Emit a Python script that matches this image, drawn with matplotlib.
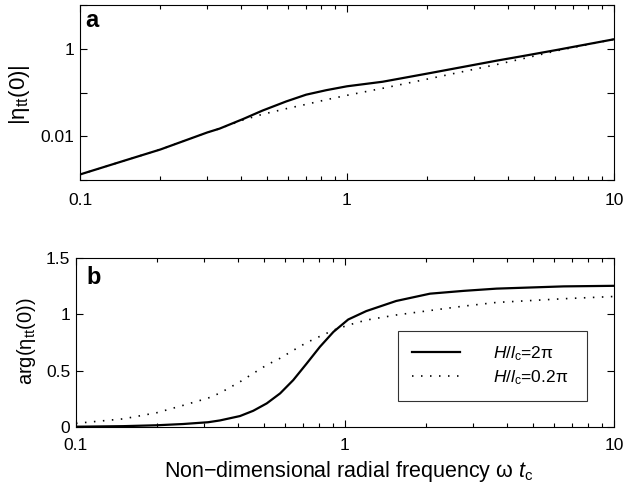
import matplotlib
matplotlib.use('Agg')
import matplotlib.pyplot as plt
from matplotlib.ticker import FixedLocator, NullLocator, LogLocator, NullFormatter

plt.rcParams['font.family'] = ['Liberation Sans', 'DejaVu Sans']
plt.rcParams['mathtext.fontset'] = 'custom'
plt.rcParams['mathtext.rm'] = 'Liberation Sans'
plt.rcParams['mathtext.it'] = 'Liberation Sans:italic'
plt.rcParams['mathtext.bf'] = 'Liberation Sans:bold'

# panel a: |eta_tt(0)| against omega t_c
x_mag = [0.1, 0.15, 0.2, 0.3, 0.333, 0.41, 0.443, 0.483, 0.592, 0.703, 0.836, 1.0,
         1.36, 2.04, 3.63, 4.5, 6.1, 10.0]
mag_2pi = [0.00134, 0.0029, 0.005, 0.0123, 0.015, 0.0252, 0.031, 0.039, 0.063, 0.09, 0.114, 0.14,
           0.178, 0.28, 0.54, 0.68, 0.95, 1.67]
mag_02pi = [0.00134, 0.0029, 0.005, 0.0123, 0.015, 0.024, 0.0275, 0.032, 0.043, 0.054, 0.069, 0.087,
            0.126, 0.21, 0.44, 0.59, 0.91, 1.67]

# panel b: arg(eta_tt(0))
x_arg = [0.1, 0.15, 0.2, 0.25, 0.31, 0.343, 0.407, 0.456, 0.512, 0.574, 0.642, 0.721, 0.807,
         0.906, 1.028, 1.2, 1.55, 2.07, 2.76, 3.66, 6.5, 10.0]
arg_2pi = [0.0, 0.005, 0.013, 0.024, 0.04, 0.056, 0.095, 0.142, 0.208, 0.297, 0.415, 0.564, 0.712,
           0.845, 0.955, 1.03, 1.12, 1.185, 1.21, 1.23, 1.25, 1.255]
arg_02pi = [0.03, 0.07, 0.125, 0.19, 0.255, 0.30, 0.40, 0.475, 0.55, 0.61, 0.68, 0.75, 0.805,
            0.86, 0.905, 0.95, 0.995, 1.035, 1.074, 1.107, 1.14, 1.16]

labels = [r'$H/l_{\rm c}$=2π', r'$H/l_{\rm c}$=0.2π']
dots = (0, (0.9, 4.5))

fig = plt.figure(figsize=(6.26, 4.94), dpi=100)
ax1 = fig.add_axes([0.1278, 0.6356, 0.853, 0.3536])
ax2 = fig.add_axes([0.1214, 0.1362, 0.8594, 0.3409])

ax1.plot(x_mag, mag_2pi, color='black', lw=1.6)
ax1.plot(x_mag, mag_02pi, color='black', lw=1.2, linestyle=dots)
ax1.set_xscale('log')
ax1.set_yscale('log')
ax1.set_ylim(1e-3, 10)
ax1.yaxis.set_major_locator(FixedLocator([1e-3, 1e-2, 1e-1, 1, 10]))
ax1.set_yticklabels(['', '0.01', '', '1', ''])
ax1.yaxis.set_minor_locator(NullLocator())
ax1.set_ylabel('|η$_{\\rm tt}$(0)|', fontsize=16)
ax1.yaxis.set_label_coords(-0.09, 0.487)
ax1.text(0.01, 0.874, 'a', transform=ax1.transAxes, fontsize=17, fontweight='bold', va='baseline')

ax2.plot(x_arg, arg_2pi, color='black', lw=1.6, label=labels[0])
ax2.plot(x_arg, arg_02pi, color='black', lw=1.2, linestyle=dots, label=labels[1])
ax2.set_xscale('log')
ax2.set_ylim(0, 1.5)
ax2.set_yticks([0, 0.5, 1, 1.5])
ax2.set_yticklabels(['0', '0.5', '1', '1.5'])
ax2.set_ylabel('arg(η$_{\\rm tt}$(0))', fontsize=14.5)
ax2.yaxis.set_label_coords(-0.07, 0.506)
ax2.set_xlabel('Non\u2212dimensional radial frequency ω $t_{\\rm c}$', fontsize=15.5)
ax2.xaxis.set_label_coords(0.5065, -0.19)
ax2.text(0.0186, 0.846, 'b', transform=ax2.transAxes, fontsize=17, fontweight='bold', va='baseline')

leg = ax2.legend(loc='lower left', bbox_to_anchor=(0.5985, 0.153, 0.3515, 0.427), mode='expand',
                 borderaxespad=0, fancybox=False, frameon=True, edgecolor='black', fontsize=12.5,
                 handlelength=2.8, handletextpad=1.9, labelspacing=0.3, borderpad=0.8)
leg.get_frame().set_linewidth(0.8)

for ax, pad in ((ax1, 9), (ax2, 8)):
    ax.set_xlim(0.1, 10)
    ax.xaxis.set_major_locator(FixedLocator([0.1, 1, 10]))
    ax.set_xticklabels(['0.1', '1', '10'])
    ax.xaxis.set_minor_locator(LogLocator(base=10, subs=range(2, 10)))
    ax.xaxis.set_minor_formatter(NullFormatter())
    ax.tick_params(which='both', direction='in', top=True, right=True, labelsize=12.5)
    ax.tick_params(which='major', length=5, width=0.8)
    ax.tick_params(which='minor', length=3, width=0.8)
    ax.tick_params(axis='x', pad=pad)
    ax.tick_params(axis='y', pad=4)
    for s in ax.spines.values():
        s.set_linewidth(0.8)

fig.savefig('out.png', dpi=100)
